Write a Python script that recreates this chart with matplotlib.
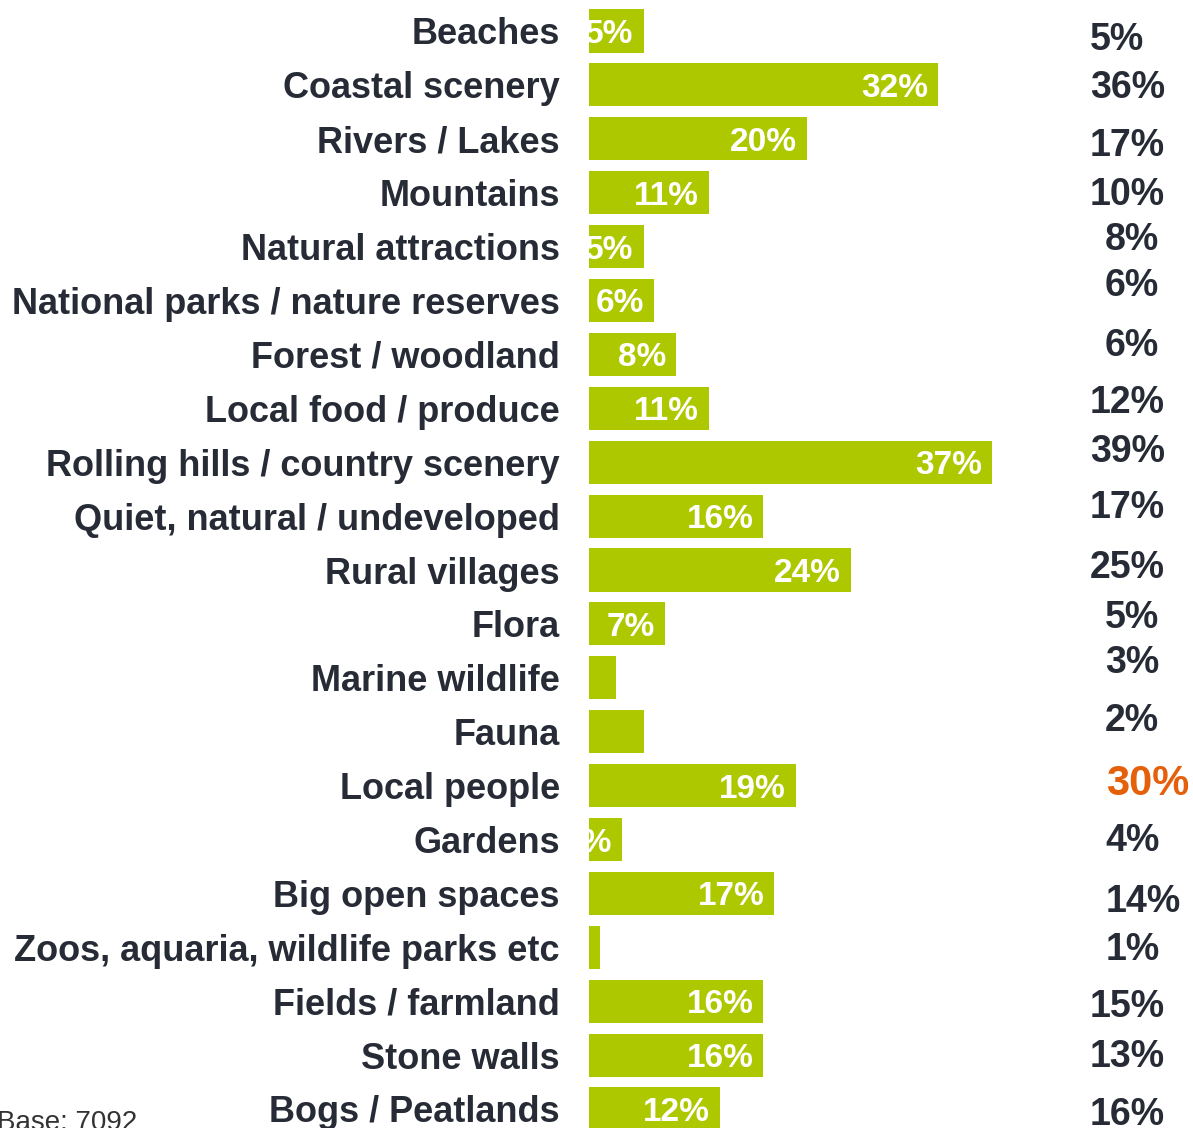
import matplotlib
matplotlib.use("Agg")
import matplotlib.pyplot as plt

categories = [
    "Beaches", "Coastal scenery", "Rivers / Lakes", "Mountains",
    "Natural attractions", "National parks / nature reserves",
    "Forest / woodland", "Local food / produce",
    "Rolling hills / country scenery", "Quiet, natural / undeveloped",
    "Rural villages", "Flora", "Marine wildlife", "Fauna", "Local people",
    "Gardens", "Big open spaces", "Zoos, aquaria, wildlife parks etc",
    "Fields / farmland", "Stone walls", "Bogs / Peatlands",
]
values = [5, 32, 20, 11, 5, 6, 8, 11, 37, 16, 24, 7, 2.5, 5, 19, 3, 17, 1, 16, 16, 12]
bar_labels = ["5%", "32%", "20%", "11%", "5%", "6%", "8%", "11%", "37%", "16%",
              "24%", "7%", None, None, "19%", "3%", "17%", "1%", "16%", "16%", "12%"]
compare_labels = ["5%", "36%", "17%", "10%", "8%", "6%", "6%", "12%", "39%", "17%",
                  "25%", "5%", "3%", "2%", "30%", "4%", "14%", "1%", "15%", "13%", "16%"]
highlight = "30%"
base_note = "Base: 7092"

# placement of the comparison column (pixel x of left edge, pixel y of centre)
compare_x = [1090, 1090, 1090, 1090, 1105, 1105, 1105, 1090, 1090, 1090,
             1090, 1105, 1105, 1105, 1106, 1105, 1106, 1106, 1090, 1090, 1090]
compare_y = [40, 88, 146, 195, 240, 286, 346, 403, 452, 508,
             568, 618, 663, 721, 784, 841, 902, 950, 1007, 1057, 1115]

W, H = 1193, 1128
BAR = "#aec800"
INK = "#262b35"
ORANGE = "#e5600b"
FONT = ["Liberation Sans", "DejaVu Sans"]

fig = plt.figure(figsize=(W / 100, H / 100), dpi=100)
px_per_unit = 10.9
left_px = 589
ax = fig.add_axes([left_px / W, 0, 1 - left_px / W, 1])
ax.set_xlim(0, (W - left_px) / px_per_unit)
pitch = 53.9
first = 31
ax.set_ylim((H - first) / pitch, -first / pitch)

ypos = list(range(len(categories)))
ax.barh(ypos, values, height=0.8, color=BAR, edgecolor="none")

for y, v, lab in zip(ypos, values, bar_labels):
    if lab is None:
        continue
    ax.annotate(lab, xy=(v, y), xytext=(-7.2, 0), textcoords="offset points",
                ha="right", va="center_baseline", color="white",
                fontsize=24, fontweight="bold", family=FONT,
                annotation_clip=False, clip_on=True)

ax.set_yticks(ypos)
ax.set_yticklabels(categories, fontsize=26, fontweight="bold", color=INK, family=FONT)
ax.tick_params(axis="y", length=0, pad=20.9)
ax.set_xticks([])
for s in ax.spines.values():
    s.set_visible(False)

for lab, xp, yp in zip(compare_labels, compare_x, compare_y):
    hi = lab == highlight
    fig.text(xp / W, 1 - yp / H, lab, ha="left", va="center",
             fontsize=30 if hi else 27, fontweight="bold",
             color=ORANGE if hi else INK, family=FONT)

fig.text(-3 / W, 1 - 1130 / H, base_note, ha="left", va="baseline",
         fontsize=20, color="#333333", family=FONT)

fig.savefig("out.png", dpi=100)
